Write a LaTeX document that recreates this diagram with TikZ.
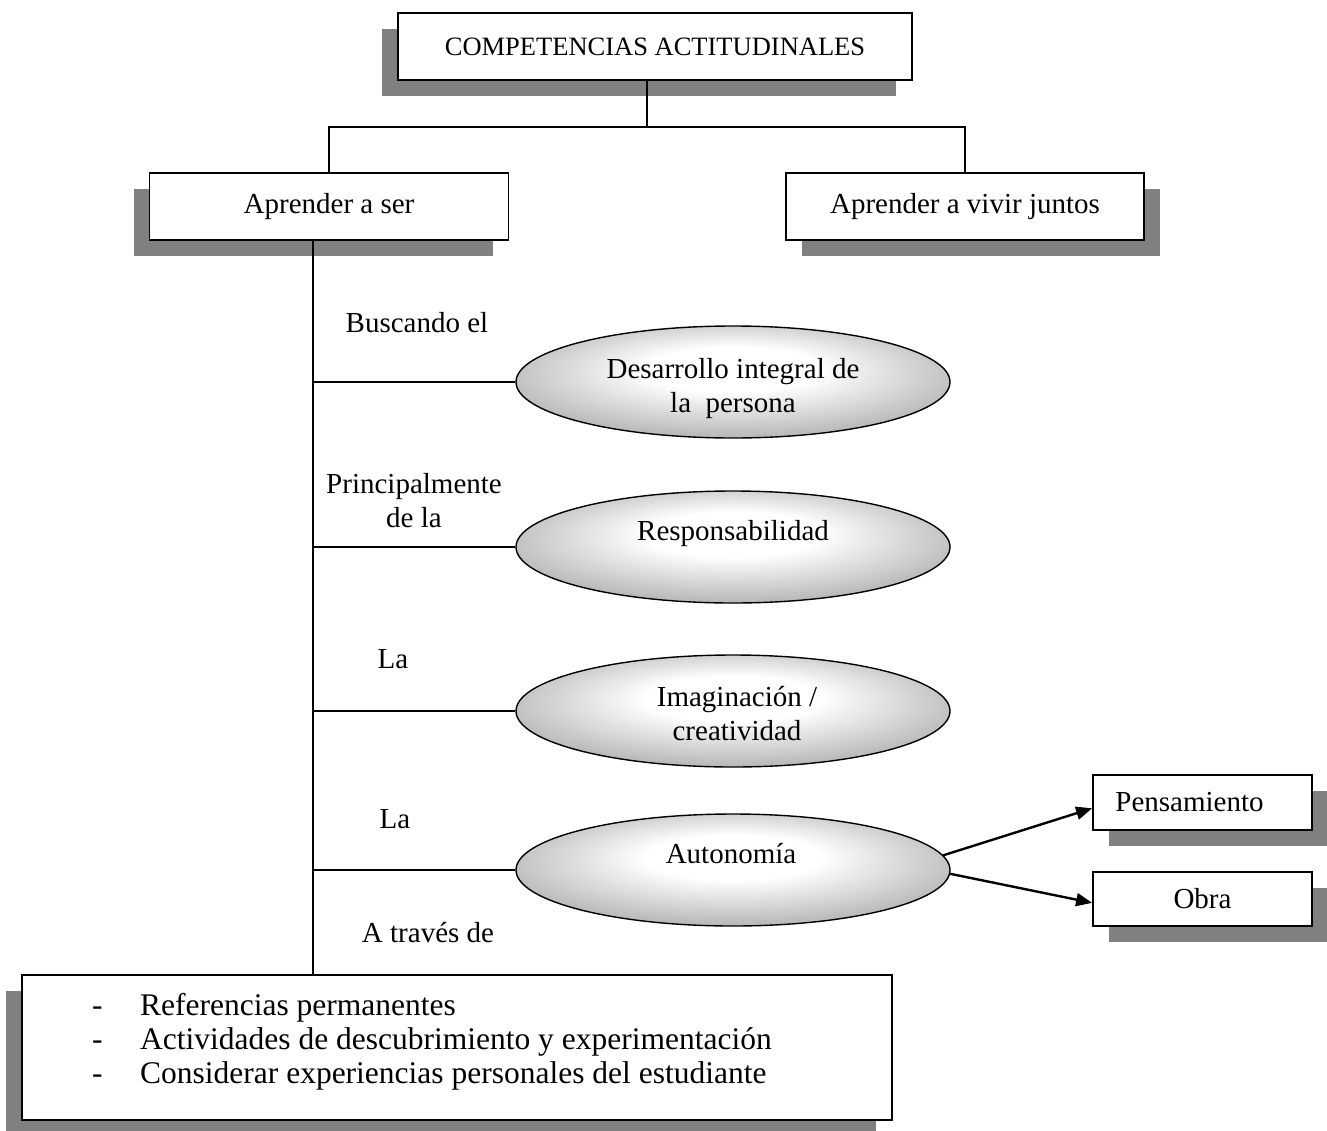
\documentclass[tikz,border=0pt]{standalone}
\usepackage{fontspec}
\setmainfont{Liberation Serif}
\usetikzlibrary{shapes.geometric,shadows,arrows.meta}

\definecolor{shadowgray}{HTML}{808080}
% soft grey-to-white fill for the ovals, brightest a little above the centre
\pgfdeclareradialshading{ovalshade}{\pgfpoint{0bp}{7bp}}{%
  color(0bp)=(white); color(10bp)=(white); color(29bp)=(black!30); color(50bp)=(black!30)}

% centred and left-aligned stacks of lines, aligned on the first baseline
\newcommand\centerstack[1]{\begin{tabular}[t]{@{}c@{}}#1\end{tabular}}
\newcommand\leftstack[1]{\begin{tabular}[t]{@{}l@{}}#1\end{tabular}}

\begin{document}
\begin{tikzpicture}[x=1pt,y=-1pt,
  txt/.style={font=\fontsize{29}{34}\selectfont},
  box/.style={draw, line width=1.8pt, fill=white, inner sep=0pt, txt},
  shadowL/.style={general shadow={fill=shadowgray, shadow xshift=-16pt, shadow yshift=-16pt}},
  shadowR/.style={general shadow={fill=shadowgray, shadow xshift=16pt, shadow yshift=-16pt}},
  oval/.style={ellipse, draw, line width=1.4pt, shade, shading=ovalshade,
               minimum width=434pt, minimum height=112pt, inner sep=0pt},
  wire/.style={line width=1.5pt},
  arrowline/.style={line width=2.4pt, -{Triangle[length=16pt,width=13pt]}}]

\useasboundingbox (0,0) rectangle (1327,1130);

% header and the two main competences
\node[box, shadowL, minimum width=514pt, minimum height=67pt,
      font=\fontsize{26.5}{30}\selectfont] (title) at (655,46.5) {COMPETENCIAS ACTITUDINALES};
\node[box, shadowL, minimum width=359pt, minimum height=67pt] (ser) at (329,206.5) {Aprender a ser};
\node[box, shadowR, minimum width=358pt, minimum height=67pt] (juntos) at (965,206.5) {Aprender a vivir juntos};

% tree joining the header to both competences
\coordinate (hub) at (647,127);
\coordinate (spine) at (313,0);
\draw[wire] (title.south -| hub) -- (hub);
\draw[wire] (ser.north) |- (hub) -| (juntos.north);

% the ovals along the spine
\node[oval] (o1) at (733,382) {};
\node[oval] (o2) at (733,547) {};
\node[oval] (o3) at (733,711) {};
\node[oval] (o4) at (733,870) {};

\node[txt, anchor=base] (t1) at (733,378) {\centerstack{Desarrollo integral de\\la\ \ persona}};
\node[txt, anchor=base] (t2) at (733,540) {Responsabilidad};
\node[txt, anchor=base] (t3) at (737,706) {\centerstack{Imaginación /\\creatividad}};
\node[txt, anchor=base] (t4) at (731,863) {Autonomía};

% labels beside the spine
\node[txt, anchor=base] (l1) at (417,332) {Buscando el};
\node[txt, anchor=base] (l2) at (414,493) {\centerstack{Principalmente\\de la}};
\node[txt, anchor=base] (l3) at (393,668) {La};
\node[txt, anchor=base] (l4) at (395,828) {La};
\node[txt, anchor=base] (l5) at (428,942) {A través de};

% outcomes of autonomy
\node[box, shadowR, minimum width=219pt, minimum height=55pt] (pen) at (1202.5,802.5) {\hspace*{-26pt}Pensamiento};
\node[box, shadowR, minimum width=219pt, minimum height=54pt] (obra) at (1202.5,899) {Obra};

% list of means at the bottom
\node[box, shadowL, minimum width=870pt, minimum height=145pt] (via) at (457,1047.5) {};
\node[anchor=base west, inner sep=0pt, font=\fontsize{31.5}{34}\selectfont] (means) at (92,1015)
  {\leftstack{\makebox[48pt][l]{-}Referencias permanentes\\
              \makebox[48pt][l]{-}Actividades de descubrimiento y experimentación\\
              \makebox[48pt][l]{-}Considerar experiencias personales del estudiante}};

% spine and branches
\draw[wire] (ser.south -| spine) -- (via.north -| spine);
\foreach \o in {o1,o2,o3,o4}
  \draw[wire] (\o.west -| spine) -- (\o.west);

% arrows from autonomy
\draw[arrowline] (o4.4) -- (pen.183);
\draw[arrowline] (o4.-1) -- (obra.182);
\end{tikzpicture}
\end{document}
